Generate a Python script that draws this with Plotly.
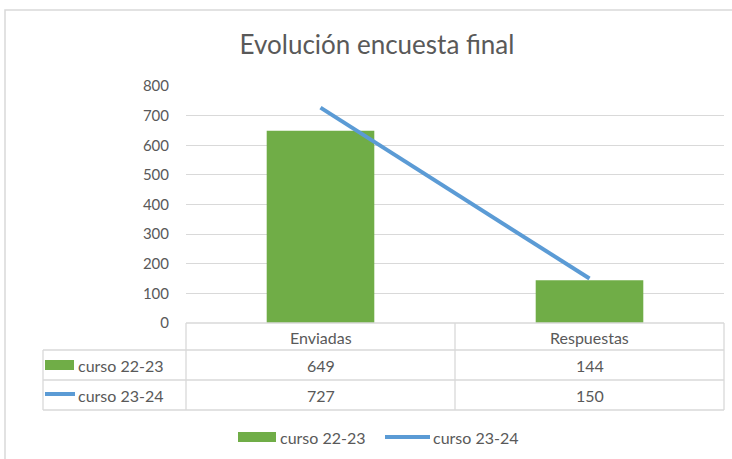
import plotly.graph_objects as go

categories = ["Enviadas", "Respuestas"]
series_names = ["curso 22-23", "curso 23-24"]
curso_22_23 = [649, 144]
curso_23_24 = [727, 150]
y_ticks = [0, 100, 200, 300, 400, 500, 600, 700, 800]

W, H = 732, 459
L, R, T, B = 186, 724, 86, 323  # plot area in px

GREEN = "#70ad47"
BLUE = "#5b9bd5"
GRID = "#d9d9d9"
TXT = "#595959"
FONT = "Lato, Carlito, Calibri, sans-serif"

def px(x):
    return (x - L) / (R - L)

def py(y):
    return (B - y) / (B - T)

fig = go.Figure()
fig.add_trace(go.Bar(x=categories, y=curso_22_23, name=series_names[0],
                     marker=dict(color=GREEN, line=dict(width=0)), width=0.4))
fig.add_trace(go.Scatter(x=categories, y=curso_23_24, name=series_names[1],
                         mode="lines", line=dict(color=BLUE, width=4)))

shapes = []
annotations = []

# outer chart border
shapes.append(dict(type="rect", xref="paper", yref="paper",
                   x0=px(5), x1=px(745), y0=py(10), y1=py(475),
                   line=dict(color=GRID, width=1.5)))

def hline(y, x0, x1):
    shapes.append(dict(type="line", xref="paper", yref="paper",
                       x0=px(x0), x1=px(x1), y0=py(y), y1=py(y),
                       line=dict(color=GRID, width=1.3)))

def vline(x, y0, y1):
    shapes.append(dict(type="line", xref="paper", yref="paper",
                       x0=px(x), x1=px(x), y0=py(y0), y1=py(y1),
                       line=dict(color=GRID, width=1.3)))

hline(323, L, R)
hline(350, 43, R)
hline(380, 43, R)
hline(410, 43, R)
vline(43, 350, 410)
vline(L, 323, 410)
vline((L + R) / 2, 323, 410)
vline(R, 323, 410)

TFS = 16
row_y = [337, 365, 395]
for i, cat in enumerate(categories):
    annotations.append(dict(x=cat, xref="x", y=py(row_y[0]), yref="paper",
                            text=cat, showarrow=False, xanchor="center", yanchor="middle",
                            font=dict(family=FONT, size=TFS, color=TXT)))
    for j, series in enumerate([curso_22_23, curso_23_24]):
        annotations.append(dict(x=cat, xref="x", y=py(row_y[j + 1]), yref="paper",
                                text=str(series[i]), showarrow=False,
                                xanchor="center", yanchor="middle",
                                font=dict(family=FONT, size=TFS, color=TXT)))

# table legend keys
shapes.append(dict(type="rect", xref="paper", yref="paper",
                   x0=px(45), x1=px(74), y0=py(370), y1=py(360),
                   fillcolor=GREEN, line=dict(width=0)))
shapes.append(dict(type="line", xref="paper", yref="paper",
                   x0=px(45), x1=px(75), y0=py(394), y1=py(394),
                   line=dict(color=BLUE, width=4)))
for j, name in enumerate(series_names):
    annotations.append(dict(x=px(76), xref="paper", y=py(row_y[j + 1]), yref="paper",
                            text=name, showarrow=False, xanchor="left", yanchor="middle",
                            font=dict(family=FONT, size=TFS, color=TXT)))

# bottom legend
shapes.append(dict(type="rect", xref="paper", yref="paper",
                   x0=px(238), x1=px(276), y0=py(442), y1=py(432),
                   fillcolor=GREEN, line=dict(width=0)))
annotations.append(dict(x=px(278), xref="paper", y=py(437), yref="paper",
                        text=series_names[0], showarrow=False, xanchor="left", yanchor="middle",
                        font=dict(family=FONT, size=TFS, color=TXT)))
shapes.append(dict(type="line", xref="paper", yref="paper",
                   x0=px(385), x1=px(430), y0=py(437), y1=py(437),
                   line=dict(color=BLUE, width=4)))
annotations.append(dict(x=px(431), xref="paper", y=py(437), yref="paper",
                        text=series_names[1], showarrow=False, xanchor="left", yanchor="middle",
                        font=dict(family=FONT, size=TFS, color=TXT)))

fig.update_layout(
    width=W, height=H,
    margin=dict(l=L, r=W - R, t=T, b=H - B),
    paper_bgcolor="white", plot_bgcolor="white",
    showlegend=False,
    title=dict(text="Evolución encuesta final", x=377 / W, xanchor="center",
               y=1 - 45 / H, yanchor="middle",
               font=dict(family=FONT, size=26, color=TXT)),
    xaxis=dict(showticklabels=False, showline=False, showgrid=False, zeroline=False,
               range=[-0.5, 1.5]),
    yaxis=dict(range=[0, 800], tickvals=y_ticks, showgrid=True, gridcolor=GRID,
               gridwidth=1.3, zeroline=False, showline=False,
               tickfont=dict(family=FONT, size=15, color=TXT), ticks="",
               ticklabelstandoff=16),
    shapes=shapes, annotations=annotations,
    bargap=0.6,
)

fig.write_html("out.html", config={"displayModeBar": False},
               post_script="document.body.style.margin='0';")
